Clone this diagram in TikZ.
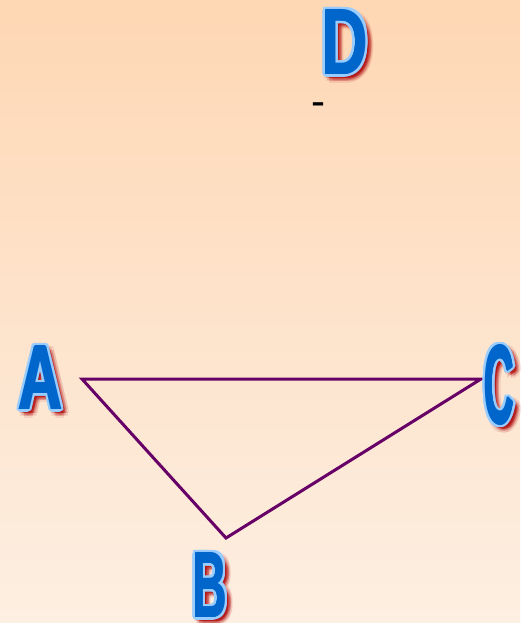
\documentclass[tikz,border=0pt]{standalone}
\usepackage{fontspec}
\setmainfont{Liberation Sans}
\usepackage{graphicx}
\usetikzlibrary{calc}
\definecolor{bgtop}{RGB}{254,215,180}
\definecolor{bgbot}{RGB}{253,239,226}
\definecolor{letterblue}{RGB}{0,102,204}
\definecolor{edgeblue}{RGB}{153,204,255}
\definecolor{shadowred}{RGB}{180,20,20}
\definecolor{linepurple}{RGB}{102,0,102}

\newcommand{\glyphfit}[3]{\resizebox{#1pt}{#2pt}{\bfseries #3}}

\tikzset{
  glyph/.style={inner sep=0pt, outer sep=0pt},
  edge/.style={draw=linepurple, line width=3pt},
}

% #1 name, #2 x, #3 y, #4 width, #5 height, #6 letter
\newcommand{\fancyletter}[6]{%
  \foreach \r/\op in {5/0.10,3/0.16,1.2/0.25}{%
    \foreach \ang in {0,45,...,315}{%
      \node[glyph, text=shadowred, opacity=\op] at ($(#2,#3)+(4,4)+(\ang:\r)$) {\glyphfit{#4}{#5}{#6}};
    }
  }
  \foreach \ang in {0,22.5,...,337.5}{%
    \node[glyph, text=edgeblue] at ($(#2,#3)+(\ang:3)$) {\glyphfit{#4}{#5}{#6}};
  }
  \foreach \ang in {0,90,180,270}{%
    \node[glyph, text=letterblue] at ($(#2,#3)+(\ang:0.6)$) {\glyphfit{#4}{#5}{#6}};
  }
  \node[glyph, text=letterblue] (#1) at (#2,#3) {\glyphfit{#4}{#5}{#6}};
}

\begin{document}
\begin{tikzpicture}[x=1pt,y=-1pt]
\useasboundingbox (0,0) rectangle (520,623);
\fill[top color=bgtop,bottom color=bgbot] (0,0) rectangle (520,623);

\coordinate (a) at (82,379);
\coordinate (b) at (226,538);
\coordinate (c) at (481,379);
\draw[edge] (a) -- (b) -- (c) -- cycle;

\fancyletter{D}{345}{42}{46}{64}{D}
\fancyletter{A}{40.5}{377.5}{44}{63}{A}
\fancyletter{C}{499}{385}{30}{78}{C}
\fancyletter{B}{210}{585}{34}{64}{B}

\node[anchor=base, inner sep=0pt, font=\fontsize{42}{42}\selectfont] (dash) at (318,116) {-};
\end{tikzpicture}
\end{document}
